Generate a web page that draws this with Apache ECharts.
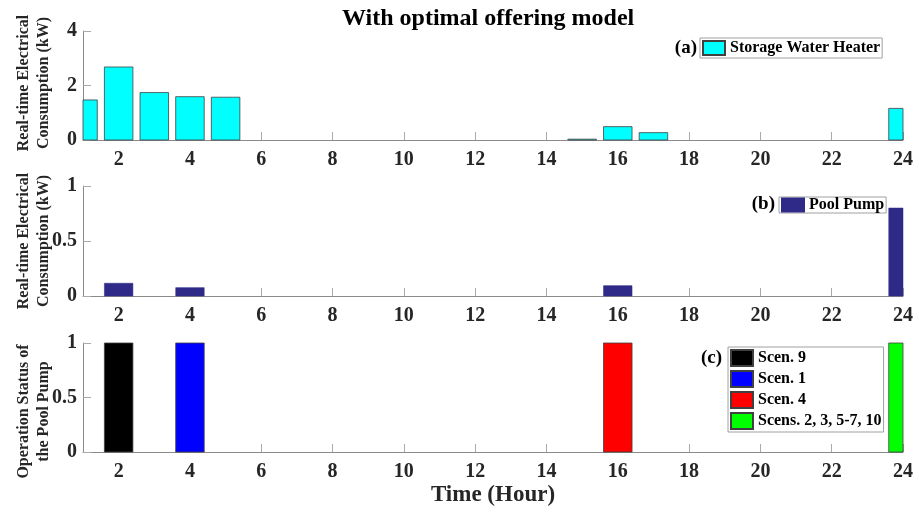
<!DOCTYPE html>
<html>
<head>
<meta charset="utf-8">
<script src="https://cdn.jsdelivr.net/npm/echarts@6/dist/echarts.min.js"></script>
<style>html,body{margin:0;padding:0;background:#fff;}#c{width:919px;height:513px;}</style>
</head>
<body>
<div id="c"></div>
<script>
// ---- data ----
const hours = [1,2,3,4,5,6,7,8,9,10,11,12,13,14,15,16,17,18,19,20,21,22,23,24];
const waterHeater = [1.47,2.68,1.74,1.59,1.57,0,0,0,0,0,0,0,0,0,0.03,0.49,0.27,0,0,0,0,0,0,1.16];
const poolPump = [0,0.116,0,0.076,0,0,0,0,0,0,0,0,0,0,0,0.094,0,0,0,0,0,0,0,0.80];
const statusScen9 = [[2, 1]];
const statusScen1 = [[4, 1]];
const statusScen4 = [[16, 1]];
const statusScensOther = [[24, 1]];
const xTickLabels = [2,4,6,8,10,12,14,16,18,20,22,24];
const yTicksTop = [0,2,4];
const yTicksMid = [0,0.5,1];
const yTicksBot = [0,0.5,1];
const title = 'With optimal offering model';
const barFraction = 0.8;

// ---- layout ----
const W = 919, H = 513;
const gLeft = 83, gRight = 16;
const FONT = '"Liberation Serif", "Times New Roman", serif';
const TXT = '#262626';
const AX = '#8a8a8a';

const toPairs = arr => hours.map((h,i)=>[h, arr[i]]).filter(p => p[1] !== 0);

function renderBar(params, api) {
  const x = api.value(0), y = api.value(1);
  const p0 = api.coord([x, 0]);
  const p1 = api.coord([x, y]);
  const w = api.size([barFraction, 0])[0];
  const cs = params.coordSys;
  const rect = echarts.graphic.clipRectByRect(
    {x: p0[0] - w / 2, y: p1[1], width: w, height: p0[1] - p1[1]},
    {x: cs.x, y: cs.y, width: cs.width, height: cs.height});
  return rect && {type: 'rect', shape: rect, style: api.style()};
}

function xAxis(gi, withName) {
  return {
    type: 'value', gridIndex: gi, min: 1, max: 24,
    axisLine: {show: true, onZero: false, lineStyle: {color: AX, width: 1}},
    axisTick: {show: true, inside: true, length: 8, customValues: xTickLabels, lineStyle: {color: '#aaaaaa'}},
    axisLabel: {show: true, customValues: xTickLabels, margin: 10, color: TXT, fontFamily: FONT, fontWeight: 'bold', fontSize: 20},
    splitLine: {show: false},
    name: withName ? 'Time (Hour)' : '',
    nameLocation: 'middle', nameGap: 32, nameMoveOverlap: false,
    nameTextStyle: {color: TXT, fontFamily: FONT, fontWeight: 'bold', fontSize: 23}
  };
}
function yAxis(gi, ticks, name, pad) {
  return {
    type: 'value', gridIndex: gi, min: ticks[0], max: ticks[ticks.length-1], interval: ticks[1]-ticks[0],
    axisLine: {show: true, lineStyle: {color: AX, width: 1}},
    axisTick: {show: true, inside: true, length: 8, lineStyle: {color: '#aaaaaa'}},
    axisLabel: {show: true, margin: 6, color: TXT, fontFamily: FONT, fontWeight: 'bold', fontSize: 20,
      formatter: v => String(v)},
    splitLine: {show: false},
    name: name, nameLocation: 'middle', nameRotate: 90, nameGap: 29, nameMoveOverlap: false,
    nameTextStyle: {color: TXT, fontFamily: FONT, fontWeight: 'bold', fontSize: 16, lineHeight: 20, align: 'center', padding: pad}
  };
}
const edge = {borderColor: '#404040', borderWidth: 0.8};
const legendText = {color: '#000', fontFamily: FONT, fontWeight: 'bold', fontSize: 16};
const gridBase = {left: gLeft, right: gRight, containLabel: false, outerBoundsMode: 'none'};

function barSeries(name, gi, color, data, border) {
  return {name: name, type: 'custom', xAxisIndex: gi, yAxisIndex: gi, renderItem: renderBar,
    encode: {x: 0, y: 1},
    itemStyle: Object.assign({color: color}, border || edge), data: data};
}

const option = {
  animation: false,
  backgroundColor: '#fff',
  title: {text: title, left: 337, top: 2,
    textStyle: {color: '#000', fontFamily: FONT, fontWeight: 'bold', fontSize: 24}},
  grid: [
    Object.assign({top: 31, height: 109}, gridBase),
    Object.assign({top: 186, height: 110}, gridBase),
    Object.assign({top: 343, height: 109}, gridBase)
  ],
  xAxis: [xAxis(0,false), xAxis(1,false), xAxis(2,true)],
  yAxis: [
    yAxis(0, yTicksTop, 'Real-time Electrical\nConsumption (kW)', [0,0,0,5]),
    yAxis(1, yTicksMid, 'Real-time Electrical\nConsumption (kW)', [0,0,0,0]),
    yAxis(2, yTicksBot, 'Operation Status of\nthe Pool Pump', [0,28,0,0])
  ],
  legend: [
    {data: ['Storage Water Heater'], left: 700, top: 38, orient: 'horizontal',
     itemWidth: 22, itemHeight: 14, padding: [2,2,2,2], borderColor: '#a0a0a0', borderWidth: 1,
     icon: 'rect', textStyle: legendText, selectedMode: false},
    {data: ['Pool Pump'], left: 779, top: 197, orient: 'horizontal',
     itemWidth: 22, itemHeight: 13, padding: [0,2,0,2], borderColor: '#a0a0a0', borderWidth: 1,
     icon: 'rect', textStyle: Object.assign({}, legendText, {lineHeight: 14}), selectedMode: false},
    {data: ['Scen. 9','Scen. 1','Scen. 4','Scens. 2, 3, 5-7, 10'], left: 728, top: 347, orient: 'vertical',
     itemWidth: 22, itemHeight: 16, itemGap: 3, padding: [2,2,2,2], borderColor: '#a0a0a0', borderWidth: 1,
     icon: 'rect', textStyle: legendText, selectedMode: false}
  ],
  graphic: [
    {type: 'text', x: 697, y: 48, style: {text: '(a)', font: 'bold 19px ' + FONT, fill: '#000', align: 'right', verticalAlign: 'middle'}},
    {type: 'text', x: 775, y: 204, style: {text: '(b)', font: 'bold 19px ' + FONT, fill: '#000', align: 'right', verticalAlign: 'middle'}},
    {type: 'text', x: 722, y: 358, style: {text: '(c)', font: 'bold 19px ' + FONT, fill: '#000', align: 'right', verticalAlign: 'middle'}}
  ],
  series: [
    barSeries('Storage Water Heater', 0, '#00ffff', toPairs(waterHeater)),
    barSeries('Pool Pump', 1, '#2f2a87', toPairs(poolPump), {borderColor: '#2f2a87', borderWidth: 0.5}),
    barSeries('Scen. 9', 2, '#000000', statusScen9),
    barSeries('Scen. 1', 2, '#0000ff', statusScen1),
    barSeries('Scen. 4', 2, '#ff0000', statusScen4),
    barSeries('Scens. 2, 3, 5-7, 10', 2, '#00ff00', statusScensOther)
  ]
};
const chart = echarts.init(document.getElementById('c'), null, {renderer: 'canvas'});
chart.setOption(option);
</script>
</body>
</html>
